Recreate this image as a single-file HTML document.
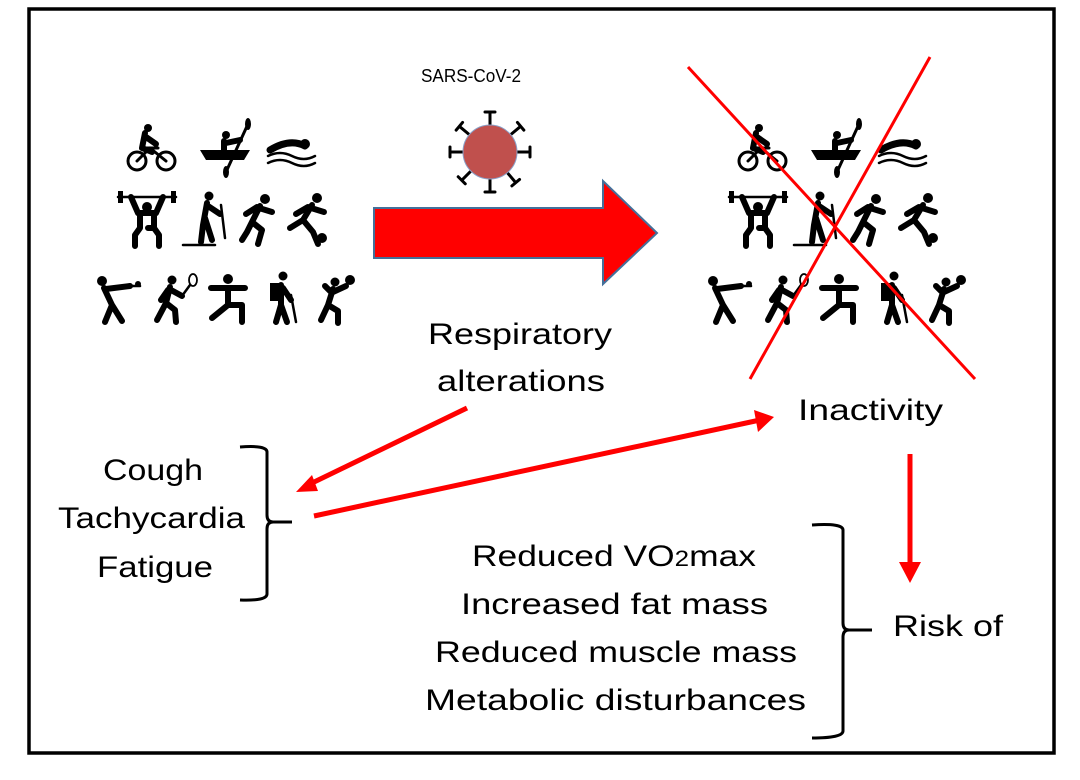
<!DOCTYPE html>
<html><head><meta charset="utf-8"><style>
html,body{margin:0;padding:0;background:#fff;}
svg{display:block;}
text{font-family:"Liberation Sans",sans-serif;fill:#000;}
</style></head><body>
<svg width="1080" height="780" viewBox="0 0 1080 780" xmlns="http://www.w3.org/2000/svg">
<rect x="29" y="9" width="1025" height="744" fill="#fff" stroke="#000" stroke-width="3.5"/>
<defs>
<g id="icons" fill="#000" stroke="#000" stroke-linecap="round" stroke-linejoin="round">
 <g fill="none" stroke-width="3"><circle cx="137" cy="161" r="9"/><circle cx="166" cy="161" r="9"/><path d="M137 161 L150 148 L166 161 M146 148 L158 148"/></g>
 <circle cx="148" cy="128" r="4" stroke="none"/><path d="M145 133 L142 148 L152 152 M146 137 L156 144" stroke-width="6" fill="none"/>
 <path d="M200 150 L250 150 L244 160 L206 160 Z" stroke="none"/>
 <circle cx="226" cy="135" r="4" stroke="none"/><path d="M224 141 L224 150 M226 143 L240 140" stroke-width="6" fill="none"/>
 <path d="M248 124 L226 172" stroke-width="3" fill="none"/><ellipse cx="248" cy="124" rx="3" ry="6" stroke="none"/><ellipse cx="226" cy="172" rx="3" ry="6" stroke="none"/>
 <path d="M270 150 Q290 138 305 146" stroke-width="7" fill="none"/><circle cx="305" cy="144" r="5" stroke="none"/>
 <path d="M268 156 Q280 150 292 156 Q304 162 315 156 M268 163 Q280 157 292 163 Q304 169 315 163" stroke-width="2.5" fill="none"/>
 <path d="M118 197 L176 197" stroke-width="2.5" fill="none"/><rect x="118" y="191" width="5" height="12" stroke="none"/><rect x="171" y="191" width="5" height="12" stroke="none"/>
 <circle cx="147" cy="207" r="5" stroke="none"/><path d="M131 197 L138 213 L156 213 L163 197 M140 213 L140 228 M154 213 L154 228 L148 228 M140 228 L135 235 L135 246 M154 228 L159 235 L159 246" stroke-width="6" fill="none"/>
 <circle cx="209" cy="196" r="4.5" stroke="none"/><path d="M207 203 L203 225 L201 242 M205 218 L212 240 M208 206 L220 214" stroke-width="6" fill="none"/>
 <path d="M183 245 L215 245 M221 205 L225 238" stroke-width="2.5" fill="none"/>
 <circle cx="265" cy="199" r="5" stroke="none"/><path d="M260 206 L252 222 L247 232 L242 240 M252 222 L262 230 L258 244 M259 208 L272 212 M257 207 L246 214" stroke-width="6" fill="none"/>
 <circle cx="317" cy="198" r="5" stroke="none"/><path d="M312 205 L303 220 L290 228 M303 220 L313 232 L318 244 M311 208 L324 212 M308 207 L296 214" stroke-width="6" fill="none"/><circle cx="322" cy="238" r="5" stroke="none"/>
 <circle cx="102" cy="281" r="5" stroke="none"/><path d="M104 288 L112 305 L105 322 M112 305 L122 321 M106 289 L130 286" stroke-width="6" fill="none"/><path d="M130 286 L140 286" stroke-width="2.5"/><circle cx="138" cy="284" r="3" stroke="none"/>
 <circle cx="172" cy="280" r="4.5" stroke="none"/><path d="M170 287 L166 303 L157 320 M166 303 L175 310 L176 322 M171 290 L182 296 M168 290 L161 300" stroke-width="6" fill="none"/><path d="M182 296 L190 285" stroke-width="2.5"/><ellipse cx="193" cy="280" rx="4" ry="6" fill="none" stroke-width="1.8"/>
 <circle cx="228" cy="279" r="5" stroke="none"/><path d="M211 288 L245 288 M228 288 L228 305 L212 318 M228 305 L242 305 L242 322" stroke-width="6" fill="none"/>
 <circle cx="283" cy="276" r="4.5" stroke="none"/><rect x="270" y="283" width="9" height="18" stroke="none"/><path d="M281 285 L281 305 L276 322 M281 305 L287 322 M283 288 L291 300" stroke-width="6" fill="none"/><path d="M291 295 L296 322" stroke-width="2.5"/>
 <circle cx="335" cy="282" r="4.5" stroke="none"/><path d="M333 289 L328 305 L321 320 M328 305 L338 311 L338 323 M333 292 L346 286 M331 292 L325 286" stroke-width="6" fill="none"/><circle cx="350" cy="280" r="5" stroke="none"/>
</g>
</defs>
<use href="#icons"/>
<use href="#icons" x="611"/>
<path d="M374 208 L603 208 L603 181 L657 233 L603 284 L603 258 L374 258 Z" fill="#ff0000" stroke="#44709a" stroke-width="2"/>
<g stroke="#000" stroke-width="3" fill="none" stroke-linecap="round">
 <g transform="translate(490,152)">
  <g id="sp"><path d="M0 -27 L0 -40 M-5 -40 L5 -40"/></g>
  <use href="#sp" transform="rotate(50)"/><use href="#sp" transform="rotate(90)"/><use href="#sp" transform="rotate(140)"/><use href="#sp" transform="rotate(180)"/><use href="#sp" transform="rotate(225)"/><use href="#sp" transform="rotate(270)"/><use href="#sp" transform="rotate(310)"/>
 </g>
</g>
<circle cx="490" cy="152" r="27" fill="#c0504d" stroke="#8aa0c8" stroke-width="1"/>
<text x="421" y="82" font-size="18" textLength="100" lengthAdjust="spacingAndGlyphs">SARS-CoV-2</text>
<path d="M688 67 L975 379 M930 57 L750 379" stroke="#ff0000" stroke-width="3"/>
<g font-size="30">
<text x="428" y="344" textLength="184" lengthAdjust="spacingAndGlyphs">Respiratory</text>
<text x="437" y="391" textLength="168" lengthAdjust="spacingAndGlyphs">alterations</text>
<text x="798" y="420" textLength="145" lengthAdjust="spacingAndGlyphs">Inactivity</text>
<text x="103" y="480" textLength="100" lengthAdjust="spacingAndGlyphs">Cough</text>
<text x="58" y="528" textLength="187" lengthAdjust="spacingAndGlyphs">Tachycardia</text>
<text x="97" y="577" textLength="116" lengthAdjust="spacingAndGlyphs">Fatigue</text>
<text x="472" y="566" textLength="284" lengthAdjust="spacingAndGlyphs">Reduced VO<tspan font-size="22">2</tspan>max</text>
<text x="461" y="614" textLength="307" lengthAdjust="spacingAndGlyphs">Increased fat mass</text>
<text x="435" y="662" textLength="362" lengthAdjust="spacingAndGlyphs">Reduced muscle mass</text>
<text x="425" y="710" textLength="381" lengthAdjust="spacingAndGlyphs">Metabolic disturbances</text>
<text x="893" y="636" textLength="110" lengthAdjust="spacingAndGlyphs">Risk of</text>
</g>
<g fill="none" stroke="#000" stroke-width="3">
<path d="M240 447 Q267 445 267 452 L267 515 Q267 522 273 522 L292 522 M273 522 Q267 522 267 529 L267 594 Q267 601 240 600"/>
<path d="M812 525 Q843 523 843 530 L843 623 Q843 630 849 630 L872 630 M849 630 Q843 630 843 637 L843 731 Q843 738 812 738"/>
</g>
<g stroke="#ff0000" stroke-width="5" fill="none">
<path d="M467 408 L310 484"/>
<path d="M314 516 L760 420"/>
<path d="M910 454 L910 565"/>
</g>
<g fill="#ff0000">
<polygon points="296,492 312,475 318,491"/>
<polygon points="774,417 754,410 758,432"/>
<polygon points="910,583 899,562 921,562"/>
</g>
</svg>
</body></html>
